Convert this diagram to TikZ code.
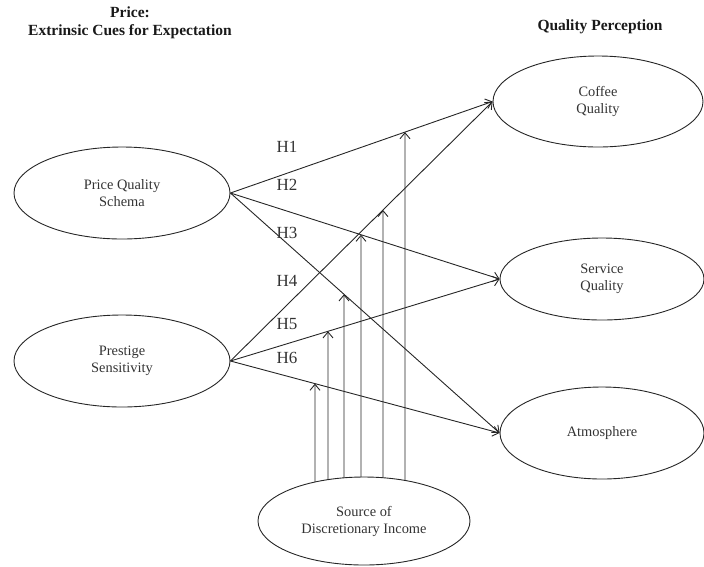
\documentclass[tikz,border=0pt]{standalone}
\usepackage{fontspec}
\setmainfont{Liberation Serif}
\usetikzlibrary{shapes.geometric,arrows.meta,intersections}
\begin{document}
\begin{tikzpicture}[x=1pt,y=-1pt,
  ell/.style={draw=black!85, line width=0.9pt, ellipse, inner sep=0pt, align=center, text=black!80, font=\fontsize{14.4}{17}\selectfont},
  conn/.style={draw=black!85, line width=0.9pt, -{Straight Barb[length=6pt,width=10pt]}},
  hyp/.style={text=black!80, font=\fontsize{17}{19}\selectfont, inner sep=0pt},
  ttl/.style={font=\bfseries\fontsize{15.5}{18}\selectfont, align=center, text=black!90, inner sep=0pt}]
\useasboundingbox (0,0) rectangle (704,566);
% titles
\node[ttl] (tleft) at (130,23) {Price:\\Extrinsic Cues for Expectation};
\node[ttl] (tright) at (600,27) {Quality Perception};
% constructs
\node[ell, minimum width=216pt, minimum height=92pt] (pqs) at (122,193) {Price Quality\\Schema};
\node[ell, minimum width=216pt, minimum height=92pt] (ps) at (122,361) {Prestige\\Sensitivity};
\node[ell, minimum width=210pt, minimum height=91pt] (cof) at (598,101.5) {Coffee\\Quality};
\node[ell, minimum width=204pt, minimum height=82pt] (svc) at (602,279) {Service\\Quality};
\node[ell, minimum width=204pt, minimum height=92pt] (atm) at (602,433) {Atmosphere};
\node[ell, minimum width=212pt, minimum height=88pt] (src) at (364,521) {Source of\\Discretionary Income};
% hypothesis paths
\draw[conn, name path=c1] (pqs.east) -- (cof.west);
\draw[conn, name path=c2] (pqs.east) -- (svc.west);
\draw[conn, name path=c3] (pqs.east) -- (atm.west);
\draw[conn, name path=c4] (ps.east) -- (cof.west);
\draw[conn, name path=c5] (ps.east) -- (svc.west);
\draw[conn, name path=c6] (ps.east) -- (atm.west);
% labels
\node[hyp] (h1) at (287,147) {H1};
\node[hyp] (h2) at (287,185) {H2};
\node[hyp] (h3) at (287,233) {H3};
\node[hyp] (h4) at (287,281) {H4};
\node[hyp] (h5) at (287,324) {H5};
\node[hyp] (h6) at (287,358) {H6};
% moderating arrows
\path[name path=srcp] (src.center) ellipse [x radius=106pt, y radius=44pt];
\foreach \xx/\cc in {315/c6, 328/c5, 344/c3, 361/c2, 383/c4, 405/c1}{
  \path[name path=vline] (\xx,0) -- (\xx,521);
  \path[name intersections={of=vline and \cc, by=mtip}];
  \path[name intersections={of=vline and srcp, by=mbase}];
  \draw[conn] (mbase) -- (mtip);
}
\end{tikzpicture}
\end{document}
